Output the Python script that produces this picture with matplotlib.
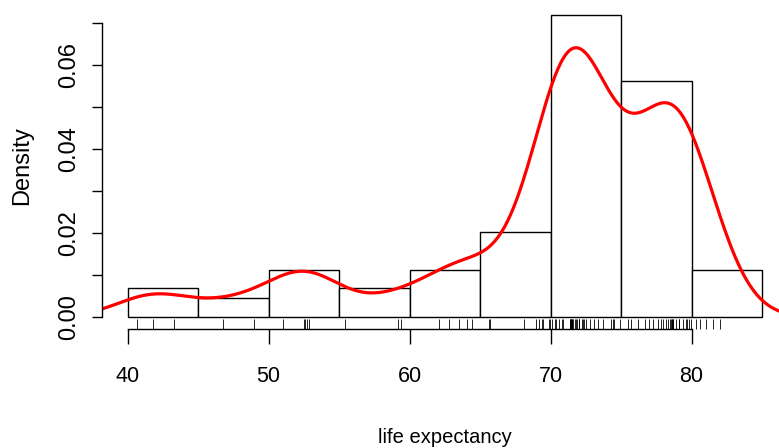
import numpy as np
import matplotlib
matplotlib.use("Agg")
import matplotlib.pyplot as plt
import matplotlib.transforms as mtransforms

# life expectancy values read from the rug (89 countries)
life_exp = [
    40.7, 41.8, 43.3,
    46.8, 49.0,
    51.0, 52.5, 52.6, 52.7, 52.9,
    55.4, 59.2, 59.4,
    62.1, 62.8, 63.5, 64.1, 64.4,
    65.6, 65.7, 68.1, 69.0, 69.2, 69.4, 69.5, 69.9, 69.95,
    70.1, 70.3, 70.4, 70.6, 70.8, 70.9, 71.35, 71.4,
    71.45, 71.45, 71.5, 71.5, 71.55, 71.6, 71.7, 71.8, 71.9, 72.0,
    72.05, 72.05, 72.2, 72.3, 72.4, 72.5, 72.8, 73.1, 73.4, 73.7,
    74.3, 74.4, 74.5, 74.95,
    75.5, 75.7, 76.2, 76.7, 77.0, 77.3, 77.6, 77.8, 78.0, 78.2,
    78.3, 78.5, 78.55, 78.6, 78.6, 78.65, 78.7, 78.9, 79.1, 79.1,
    79.4, 79.6, 79.7, 79.85, 79.95,
    80.3, 80.6, 81.0, 81.5, 82.0,
]
bin_edges = [40, 45, 50, 55, 60, 65, 70, 75, 80, 85]
x_ticks = [40, 50, 60, 70, 80]
y_ticks = [0.0, 0.01, 0.02, 0.03, 0.04, 0.05, 0.06, 0.07]
y_labels = ["0.00", "", "0.02", "", "0.04", "", "0.06", ""]

data = np.array(life_exp)

# gaussian kde, R's density() defaults (bw.nrd0, n=512, cut=3)
n = len(data)
q75, q25 = np.percentile(data, [75, 25])
bw = 0.9 * min(data.std(ddof=1), (q75 - q25) / 1.34) * n ** -0.2
grid = np.linspace(data.min() - 3 * bw, data.max() + 3 * bw, 512)
dens = np.exp(-0.5 * ((grid[:, None] - data[None, :]) / bw) ** 2).sum(axis=1)
dens /= n * bw * np.sqrt(2 * np.pi)

plt.rcParams["font.family"] = ["Liberation Sans", "DejaVu Sans"]

H = 448.0
W = 779.0
fig = plt.figure(figsize=(W / 100, H / 100), dpi=100)
ax = fig.add_axes([102 / W, (H - 328.8) / H, (788 - 102) / W, 326.2 / H])

ax.hist(data, bins=bin_edges, density=True, facecolor="white",
        edgecolor="black", linewidth=1.0)
ax.plot(grid, dens, color="#ff0000", linewidth=2.3, solid_capstyle="round")

# rug along the bottom of the plot region
trans = mtransforms.blended_transform_factory(ax.transData, ax.transAxes)
ax.vlines(data, 0, 0.03, transform=trans, color="black", linewidth=0.6,
          clip_on=False)

ax.set_xlim(38.19, 86.84)
ax.set_ylim(-0.00288, 0.0748)

for s in ("top", "right"):
    ax.spines[s].set_visible(False)
ax.spines["left"].set_bounds(0, 0.07)
ax.spines["bottom"].set_bounds(40, 80)
for s in ("left", "bottom"):
    ax.spines[s].set_linewidth(1.0)

ax.set_xticks(x_ticks)
ax.set_xticklabels([str(v) for v in x_ticks], fontsize=15.5)
ax.set_yticks(y_ticks)
ax.set_yticklabels(y_labels, fontsize=17, rotation=90, va="center")
ax.tick_params(axis="x", length=10.8, width=1.0, pad=16)
ax.tick_params(axis="y", length=7.2, width=1.0, pad=8.4)

fig.text(28.5 / W, (H - 165.7) / H, "Density", rotation=90,
         rotation_mode="anchor", ha="center", va="baseline", fontsize=17)
fig.text(445 / W, 5 / H, "life expectancy", ha="center", va="baseline",
         fontsize=14.5)

fig.savefig("out.png", dpi=100)
